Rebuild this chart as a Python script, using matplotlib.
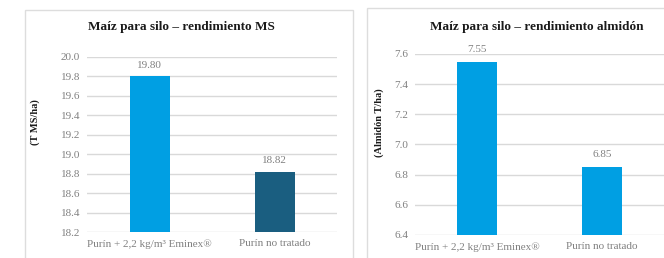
"""
Maíz para silo: rendimiento MS y rendimiento almidón.
Two bar panels side by side, each inside a light grey frame.
"""

import matplotlib
matplotlib.use("Agg")
import matplotlib.pyplot as plt
from matplotlib.patches import Rectangle
import numpy as np

# =========================
# Data
# =========================

categories = ["Purín + 2,2 kg/m³ Eminex®", "Purín no tratado"]

ms_values = [19.80, 18.82]
ms_labels = ["19.80", "18.82"]
ms_ticks = [18.2, 18.4, 18.6, 18.8, 19.0, 19.2, 19.4, 19.6, 19.8, 20.0]

starch_values = [7.55, 6.85]
starch_labels = ["7.55", "6.85"]
starch_ticks = [6.4, 6.6, 6.8, 7.0, 7.2, 7.4, 7.6]

BLUE = "#009FE3"
DARK = "#1A5E80"
GREY_TXT = "#808080"
GRID = "#D9D9D9"

plt.rcParams["font.family"] = ["Liberation Serif", "DejaVu Serif"]

W, H = 664, 258
fig = plt.figure(figsize=(W / 100, H / 100), dpi=100)

# panel frames (pixel coords -> figure fraction)
for x0, y0, x1, y1 in [(25, 10, 353, 270), (367, 8, 680, 270)]:
    fig.patches.append(Rectangle((x0 / W, 1 - y1 / H), (x1 - x0) / W, (y1 - y0) / H,
                                 transform=fig.transFigure, fill=False,
                                 edgecolor="#DDDDDD", linewidth=1.0, zorder=0))


def draw_panel(rect, values, labels, colors, ticks, title, ylabel, title_xy, ylabel_xy, pad_pt):
    ax = fig.add_axes(rect)
    x = np.arange(len(categories))
    ax.bar(x, values, width=0.32, color=colors, zorder=3)
    ax.set_xlim(-0.5, 1.5)
    ax.set_ylim(ticks[0], ticks[-1])
    ax.set_yticks(ticks)
    ax.set_yticklabels([f"{t:.1f}" for t in ticks], color=GREY_TXT, fontsize=8)
    ax.set_xticks(x)
    ax.set_xticklabels(categories, color=GREY_TXT, fontsize=8)
    ax.tick_params(length=0, axis="y", pad=5)
    ax.tick_params(length=0, axis="x", pad=5)
    ax.yaxis.grid(True, color=GRID, linewidth=1, zorder=0)
    ax.set_axisbelow(True)
    for s in ax.spines.values():
        s.set_visible(False)
    for xi, v, lab in zip(x, values, labels):
        ax.annotate(lab, (xi, v), xytext=(0, pad_pt), textcoords="offset points",
                    ha="center", va="bottom", fontsize=8, color=GREY_TXT)
    fig.text(title_xy[0] / W, 1 - title_xy[1] / H, title, ha="center", va="center",
             fontsize=9.5, fontweight="bold", color="#1a1a1a")
    fig.text(ylabel_xy[0] / W, 1 - ylabel_xy[1] / H, ylabel, ha="center", va="center",
             rotation=90, fontsize=7.5, fontweight="bold", color="#1a1a1a")
    return ax


draw_panel([87 / W, 1 - 232 / H, 250 / W, 175 / H], ms_values, ms_labels, [BLUE, DARK],
           ms_ticks, "Maíz para silo – rendimiento MS", "(T MS/ha)", (181, 27), (35, 122), 4.5)

draw_panel([415 / W, 1 - 235 / H, 249 / W, 181 / H], starch_values, starch_labels, [BLUE, BLUE],
           starch_ticks, "Maíz para silo – rendimiento almidón", "(Almidón T/ha)", (537, 27),
           (379, 123), 5.5)

fig.savefig("out.png", dpi=100)
